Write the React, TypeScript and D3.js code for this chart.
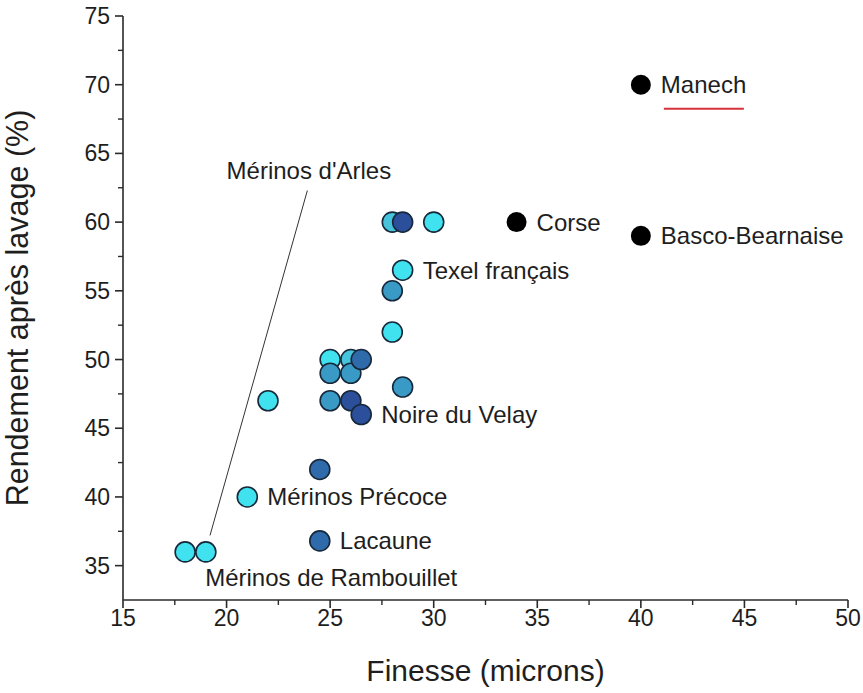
import React from 'react';
import * as d3 from 'd3';

// ---- data ----
const finesse = [18, 19, 21, 24.5, 24.5, 22, 25, 26, 26.5, 25, 26, 25, 26, 26.5, 28.5, 28, 28, 28.5, 28, 28.5, 30, 34, 40, 40];
const rendement = [36, 36, 40, 36.8, 42, 47, 47, 47, 46, 50, 50, 49, 49, 50, 48, 52, 55, 56.5, 60, 60, 60, 60, 59, 70];
const shade = ['cyan', 'cyan', 'cyan', 'dark', 'dark', 'cyan', 'medium', 'navy', 'navy', 'cyan', 'teal', 'medium', 'medium', 'dark', 'medium', 'cyan', 'medium', 'cyan', 'teal', 'navy', 'cyan', 'black', 'black', 'black'];

const labelText = ['Manech', 'Corse', 'Basco-Bearnaise', 'Texel français', 'Noire du Velay', 'Mérinos Précoce', 'Lacaune', 'Mérinos de Rambouillet'];
const labelX = [40, 34, 40, 28.5, 26.5, 21, 24.5, 18];
const labelY = [70, 60, 59, 56.5, 46, 40, 36.8, 36];
const labelSide = ['right', 'right', 'right', 'right', 'right', 'right', 'right', 'below'];

const arlesText = "Mérinos d'Arles";
const arlesLabel = [20, 63.15];
const arlesLine = [[23.9, 62.3], [19.2, 37.2]];

const xTicks = [15, 20, 25, 30, 35, 40, 45, 50];
const yTicks = [35, 40, 45, 50, 55, 60, 65, 70, 75];
const xMinor = [17.5, 22.5, 27.5, 32.5, 37.5, 42.5, 47.5];
const yMinor = [37.5, 42.5, 47.5, 52.5, 57.5, 62.5, 67.5, 72.5];

const xTitle = 'Finesse (microns)';
const yTitle = 'Rendement après lavage (%)';

const palette: Record<string, string> = {
  cyan: '#40e2ef',
  teal: '#45c4dc',
  medium: '#399bc5',
  dark: '#2f6aab',
  navy: '#2b4f9b',
  black: '#000000',
};

const FONT = '"Liberation Sans", Arial, Helvetica, sans-serif';
const TEXT = '#1e1e1e';
const AXIS = '#2a2a2a';

export default function App() {
  const W = 863, H = 693;
  const x = d3.scaleLinear().domain([15, 50]).range([123, 848]);
  const y = d3.scaleLinear().domain([32.5, 75]).range([600, 16]);
  const x0 = x(15), y0 = y(32.5);
  const R = 10;

  const lineGen = d3.line<number[]>().x(d => x(d[0])).y(d => y(d[1]));

  return (
    <svg width={W} height={H} style={{ position: 'absolute', left: 0, top: 0, background: '#fff' }} fontFamily={FONT}>
      <rect width={W} height={H} fill="#fff" />
      {/* Arles leader line */}
      <path d={lineGen(arlesLine) || ''} stroke="#333" strokeWidth={1} fill="none" />
      <text x={x(arlesLabel[0])} y={y(arlesLabel[1])} fontSize={24} fill={TEXT}>{arlesText}</text>

      {/* axes */}
      <line x1={x0} x2={x(50)} y1={y0} y2={y0} stroke={AXIS} strokeWidth={1.6} />
      <line x1={x0} x2={x0} y1={y0} y2={y(75)} stroke={AXIS} strokeWidth={1.6} />
      {xTicks.map(t => (
        <g key={'xt' + t}>
          <line x1={x(t)} x2={x(t)} y1={y0} y2={y0 + 8} stroke={AXIS} strokeWidth={1.6} />
          <text x={x(t)} y={y0 + 26} fontSize={23} textAnchor="middle" fill={TEXT}>{t}</text>
        </g>
      ))}
      {xMinor.map(t => (
        <line key={'xm' + t} x1={x(t)} x2={x(t)} y1={y0} y2={y0 + 5} stroke={AXIS} strokeWidth={1.4} />
      ))}
      {yTicks.map(t => (
        <g key={'yt' + t}>
          <line x1={x0 - 8} x2={x0} y1={y(t)} y2={y(t)} stroke={AXIS} strokeWidth={1.6} />
          <text x={x0 - 13} y={y(t)} dy="0.35em" fontSize={23} textAnchor="end" fill={TEXT}>{t}</text>
        </g>
      ))}
      {yMinor.map(t => (
        <line key={'ym' + t} x1={x0 - 5} x2={x0} y1={y(t)} y2={y(t)} stroke={AXIS} strokeWidth={1.4} />
      ))}
      <text x={(x(15) + x(50)) / 2} y={681} fontSize={30} textAnchor="middle" fill={TEXT}>{xTitle}</text>
      <text transform={`translate(28,${(y(32.5) + y(75)) / 2}) rotate(-90)`} fontSize={30.5} textAnchor="middle" fill={TEXT}>{yTitle}</text>

      {/* points */}
      {finesse.map((f, i) => (
        <circle key={'p' + i} cx={x(f)} cy={y(rendement[i])} r={R}
          fill={palette[shade[i]]}
          stroke={shade[i] === 'black' ? '#000' : '#16283a'}
          strokeWidth={shade[i] === 'black' ? 0 : 1.6} />
      ))}

      {/* labels */}
      {labelText.map((t, i) => {
        const px = x(labelX[i]), py = y(labelY[i]);
        if (labelSide[i] === 'below') {
          return <text key={'l' + i} x={px + 20} y={py + 34} fontSize={24} fill={TEXT}>{t}</text>;
        }
        return <text key={'l' + i} x={px + 20} y={py} dy="0.35em" fontSize={24} fill={TEXT}>{t}</text>;
      })}
      {/* red underline under Manech */}
      <line x1={x(labelX[0]) + 23} x2={x(labelX[0]) + 103} y1={y(labelY[0]) + 24} y2={y(labelY[0]) + 24} stroke="#d6323c" strokeWidth={2} />
    </svg>
  );
}
